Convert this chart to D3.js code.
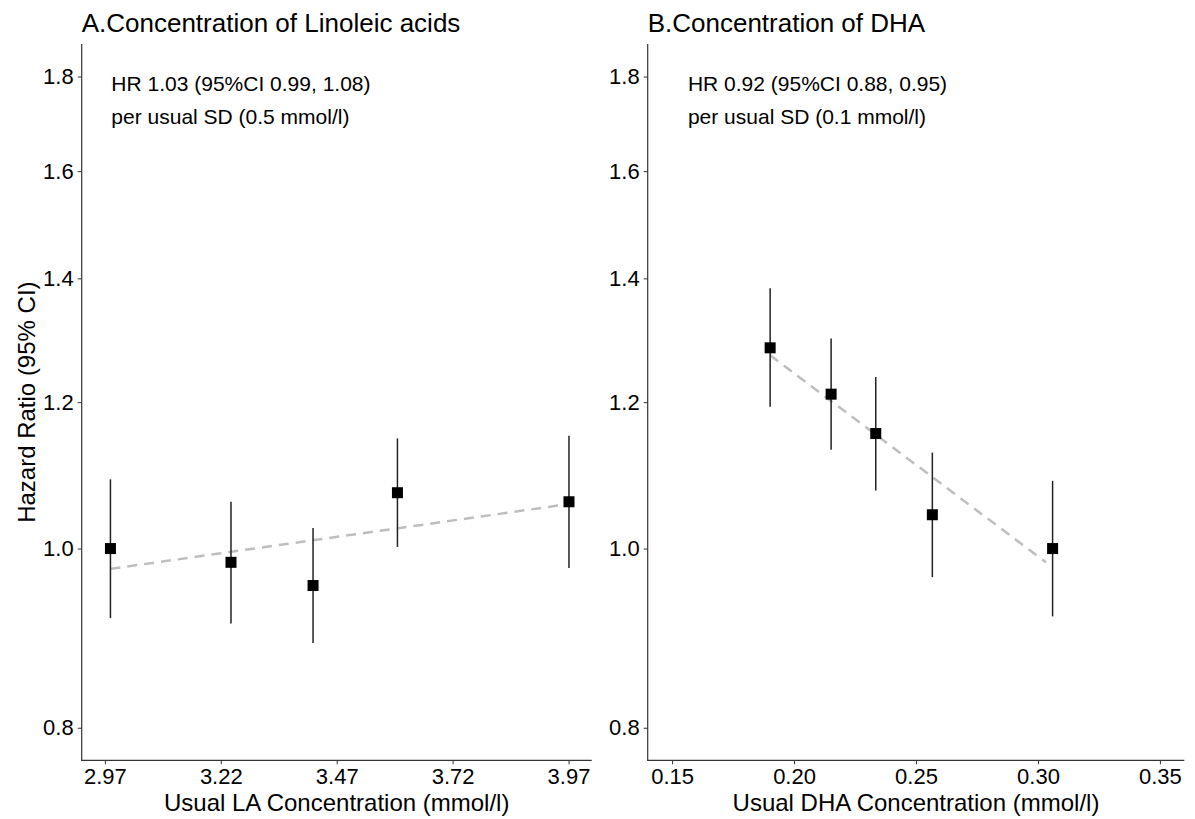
<!DOCTYPE html>
<html>
<head>
<meta charset="utf-8">
<script src="https://cdn.jsdelivr.net/npm/d3@7"></script>
<style>
  html, body { margin: 0; padding: 0; background: #fff; }
  svg text { font-family: "Liberation Sans", Arial, sans-serif; fill: #000; }
</style>
</head>
<body>
<svg id="chart" width="1195" height="819"></svg>
<script>
// ---------------- Data ----------------
const yTicks = [0.8, 1.0, 1.2, 1.4, 1.6, 1.8];
const yLimits = [0.8, 1.8];

// Panel A: Linoleic acid
const laTitle = "A.Concentration of Linoleic acids";
const laXLabel = "Usual LA Concentration (mmol/l)";
const laXTicks = [2.97, 3.22, 3.47, 3.72, 3.97];
const laXTickLabels = ["2.97", "3.22", "3.47", "3.72", "3.97"];
const laXLimits = [2.97, 3.97];
const laX = [2.982, 3.242, 3.419, 3.601, 3.971];
const laHR = [1.000, 0.983, 0.955, 1.072, 1.060];
const laLo = [0.917, 0.911, 0.889, 1.002, 0.976];
const laHi = [1.090, 1.060, 1.026, 1.147, 1.151];
const laTrendX = [2.982, 3.971];
const laTrendY = [0.975, 1.057];
const laNote = ["HR 1.03 (95%CI 0.99, 1.08)", "per usual SD (0.5 mmol/l)"];
const laNoteX = 2.984;

// Panel B: DHA
const dhaTitle = "B.Concentration of DHA";
const dhaXLabel = "Usual DHA Concentration (mmol/l)";
const dhaXTicks = [0.15, 0.20, 0.25, 0.30, 0.35];
const dhaXTickLabels = ["0.15", "0.20", "0.25", "0.30", "0.35"];
const dhaXLimits = [0.15, 0.35];
const dhaX = [0.1902, 0.2152, 0.2335, 0.2567, 0.3060];
const dhaHR = [1.284, 1.212, 1.154, 1.043, 1.000];
const dhaLo = [1.193, 1.131, 1.075, 0.965, 0.919];
const dhaHi = [1.383, 1.299, 1.238, 1.127, 1.088];
const dhaTrendX = [0.1902, 0.3033];
const dhaTrendY = [1.272, 0.983];
const dhaNote = ["HR 0.92 (95%CI 0.88, 0.95)", "per usual SD (0.1 mmol/l)"];
const dhaNoteX = 0.1565;

const yTitle = "Hazard Ratio (95% CI)";

// ---------------- Drawing ----------------
const svg = d3.select("#chart");
const plotTop = 44, plotBottom = 760.3;

function expandLin(lim) {
  const r = lim[1] - lim[0];
  return [lim[0] - 0.05 * r, lim[1] + 0.05 * r];
}
function expandLog(lim) {
  const a = Math.log(lim[0]), b = Math.log(lim[1]), r = b - a;
  return [Math.exp(a - 0.05 * r), Math.exp(b + 0.05 * r)];
}

const y = d3.scaleLog().domain(expandLog(yLimits)).range([plotBottom, plotTop]);

function panel(cfg) {
  const x = d3.scaleLinear().domain(expandLin(cfg.xLimits)).range([cfg.left, cfg.right]);
  const g = svg.append("g");

  // title
  g.append("text").attr("x", cfg.left).attr("y", 32)
    .attr("font-size", 26).text(cfg.title);

  // axes
  const yAxis = d3.axisLeft(y).tickValues(yTicks).tickFormat(d3.format(".1f"))
    .tickSizeInner(4).tickSizeOuter(0).tickPadding(4);
  const ya = g.append("g").attr("transform", `translate(${cfg.left},0)`).call(yAxis);
  const xAxis = d3.axisBottom(x).tickValues(cfg.xTicks)
    .tickFormat((d, i) => cfg.xTickLabels[i])
    .tickSizeInner(4).tickSizeOuter(0).tickPadding(4);
  const xa = g.append("g").attr("transform", `translate(0,${plotBottom})`).call(xAxis);
  [ya, xa].forEach(a => {
    a.select(".domain").remove();
    a.selectAll(".tick line").attr("stroke", "#333").attr("stroke-width", 1);
    a.selectAll(".tick text").attr("font-size", 22).attr("fill", "#000")
      .style("font-family", '"Liberation Sans", Arial, sans-serif');
  });
  xa.selectAll(".tick text").attr("dy", "0.71em");
  // axis lines
  g.append("line").attr("x1", cfg.left).attr("x2", cfg.left).attr("y1", plotTop).attr("y2", plotBottom + 0.5)
    .attr("stroke", "#333").attr("stroke-width", 1.2);
  g.append("line").attr("x1", cfg.left - 0.5).attr("x2", cfg.right).attr("y1", plotBottom).attr("y2", plotBottom)
    .attr("stroke", "#333").attr("stroke-width", 1.2);

  // x label
  g.append("text").attr("x", (cfg.left + cfg.right) / 2).attr("y", 811)
    .attr("text-anchor", "middle").attr("font-size", 24).text(cfg.xLabel);

  // annotation
  cfg.note.forEach((t, i) => {
    g.append("text").attr("x", x(cfg.noteX)).attr("y", 91 + i * 33)
      .attr("font-size", 21).text(t);
  });

  // trend line
  const line = d3.line().x(d => x(d[0])).y(d => y(d[1]));
  g.append("path").datum(d3.zip(cfg.trendX, cfg.trendY))
    .attr("d", line).attr("fill", "none").attr("stroke", "#bebebe")
    .attr("stroke-width", 2.5).attr("stroke-dasharray", "10,7");

  // error bars
  const pts = cfg.xs.map((v, i) => ({ x: v, hr: cfg.hr[i], lo: cfg.lo[i], hi: cfg.hi[i] }));
  g.selectAll(".eb").data(pts).enter().append("line")
    .attr("x1", d => x(d.x)).attr("x2", d => x(d.x))
    .attr("y1", d => y(d.lo)).attr("y2", d => y(d.hi))
    .attr("stroke", "#222").attr("stroke-width", 1.5);
  const s = 11;
  g.selectAll(".pt").data(pts).enter().append("rect")
    .attr("x", d => x(d.x) - s / 2).attr("y", d => y(d.hr) - s / 2)
    .attr("width", s).attr("height", s).attr("fill", "#000");
}

panel({
  left: 81.7, right: 591.7, title: laTitle, xLabel: laXLabel,
  xTicks: laXTicks, xTickLabels: laXTickLabels, xLimits: laXLimits,
  xs: laX, hr: laHR, lo: laLo, hi: laHi, trendX: laTrendX, trendY: laTrendY,
  note: laNote, noteX: laNoteX
});
panel({
  left: 647.7, right: 1184.3, title: dhaTitle, xLabel: dhaXLabel,
  xTicks: dhaXTicks, xTickLabels: dhaXTickLabels, xLimits: dhaXLimits,
  xs: dhaX, hr: dhaHR, lo: dhaLo, hi: dhaHi, trendX: dhaTrendX, trendY: dhaTrendY,
  note: dhaNote, noteX: dhaNoteX
});

// y title
svg.append("text").attr("transform", `translate(35,${(plotTop + plotBottom) / 2}) rotate(-90)`)
  .attr("text-anchor", "middle").attr("font-size", 24).text(yTitle);
</script>
</body>
</html>
